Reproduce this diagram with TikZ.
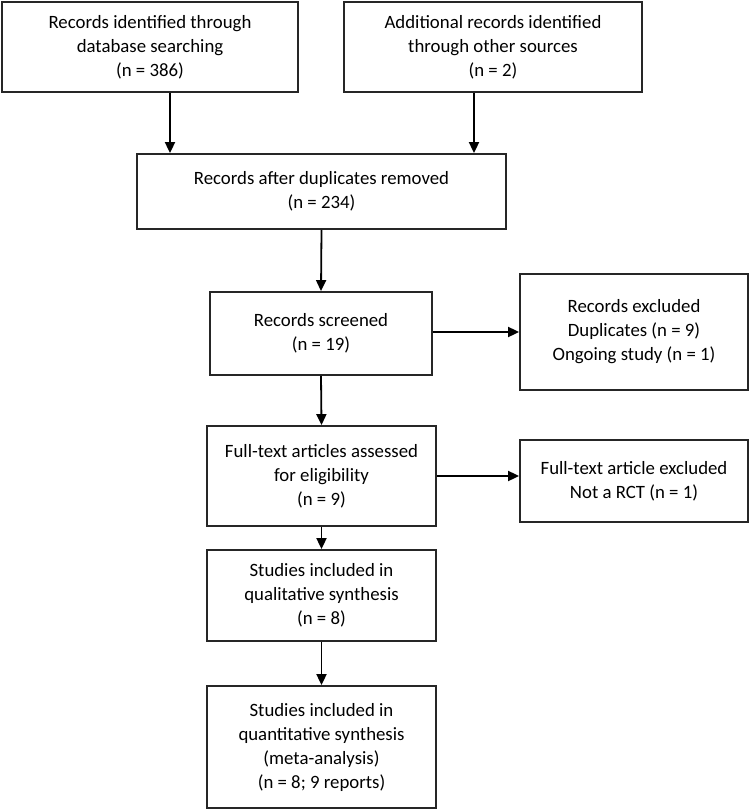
\documentclass[tikz,border=0pt]{standalone}
\usepackage{fontspec}
\setmainfont{Carlito}
\usetikzlibrary{arrows.meta}

\tikzset{
  box/.style={draw=black!85, line width=1.8pt, align=center, inner sep=2pt,
    font=\fontsize{18.8}{24}\selectfont},
  arr/.style={line width=1.8pt, -{Triangle[length=11pt,width=10pt]}}
}

\begin{document}
\begin{tikzpicture}[x=1pt,y=-1pt]
\useasboundingbox (0,0) rectangle (750,810);

% identification
\node[box, minimum width=296pt, minimum height=90pt] (ident) at (150,47)
  {Records identified through\\database searching\\(n = 386)};
\node[box, minimum width=298pt, minimum height=90pt] (other) at (493,47)
  {Additional records identified\\through other sources\\(n = 2)};
\node[box, minimum width=369pt, minimum height=75pt] (dedup) at (321.5,191.5)
  {Records after duplicates removed\\(n = 234)};

% screening
\node[box, minimum width=222pt, minimum height=83pt] (screen) at (321,333.5)
  {Records screened\\(n = 19)};
\node[box, minimum width=228pt, minimum height=116pt] (excla) at (634,332)
  {Records excluded\\Duplicates (n = 9)\\Ongoing study (n = 1)};

% eligibility
\node[box, minimum width=229pt, minimum height=100pt] (full) at (321.5,476)
  {Full-text articles assessed\\for eligibility\\(n = 9)};
\node[box, minimum width=228pt, minimum height=82pt] (exclb) at (634,481)
  {Full-text article excluded\\Not a RCT (n = 1)};

% included
\node[box, minimum width=229pt, minimum height=91pt] (qual) at (321.5,595.5)
  {Studies included in\\qualitative synthesis\\(n = 8)};
\node[box, minimum width=229pt, minimum height=122pt] (quant) at (321.5,747)
  {Studies included in\\quantitative synthesis\\(meta-analysis)\\(n = 8; 9 reports)};

\draw[arr] ([xshift=20pt]ident.south) -- ([xshift=20pt]ident.south |- dedup.north);
\draw[arr] ([xshift=-19pt]other.south) -- ([xshift=-19pt]other.south |- dedup.north);
\draw[arr] (dedup.south) -- (screen.north);
\draw[arr] (screen.south) -- (full.north);
\draw[arr] (full.south) -- (qual.north);
\draw[arr] (qual.south) -- (quant.north);
\draw[arr] (screen.east |- excla.west) -- (excla.west);
\draw[arr] (full.east) -- (full.east -| exclb.west);
\end{tikzpicture}
\end{document}
